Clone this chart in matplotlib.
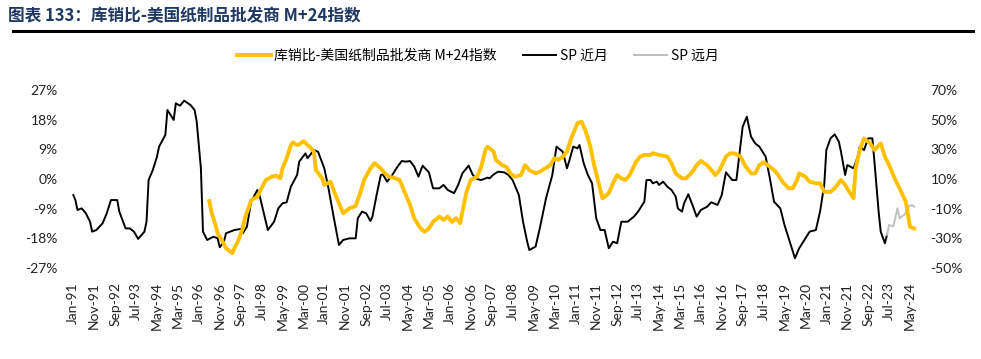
import matplotlib
matplotlib.use("Agg")
import matplotlib.pyplot as plt
import numpy as np

plt.rcParams['font.family'] = ['Lato', 'Noto Sans CJK SC', 'DejaVu Sans']

# ---------------- data ----------------
sp_near_dates = ["1991-01","1991-02","1991-03","1991-05","1991-07","1991-09","1991-10","1991-12","1992-03","1992-05",
"1992-07","1992-10","1992-11","1993-02","1993-04","1993-06","1993-08","1993-11","1993-12","1994-01",
"1994-03","1994-05","1994-06","1994-09","1994-10","1995-01","1995-02","1995-04","1995-06","1995-09",
"1995-11","1995-12","1996-02","1996-03","1996-05","1996-08","1996-10","1996-11","1997-01","1997-02",
"1997-06","1997-09","1997-10","1997-12","1998-02","1998-05","1998-06","1998-10","1999-01","1999-03",
"1999-05","1999-07","1999-09","1999-12","2000-01","2000-04","2000-05","2000-08","2000-10","2001-01",
"2001-03","2001-05","2001-08","2001-10","2002-01","2002-04","2002-05","2002-07","2002-09","2002-11",
"2002-12","2003-02","2003-04","2003-05","2003-07","2003-09","2003-12","2004-02","2004-04","2004-06",
"2004-08","2004-10","2004-12","2005-03","2005-05","2005-08","2005-10","2005-12","2006-01","2006-03",
"2006-05","2006-07","2006-10","2006-12","2007-02","2007-04","2007-07","2007-08","2007-10","2007-12",
"2008-03","2008-05","2008-07","2008-10","2008-12","2009-02","2009-03","2009-06","2009-08","2009-11",
"2010-02","2010-04","2010-07","2010-08","2010-09","2010-10","2010-12","2011-02","2011-03","2011-05",
"2011-07","2011-09","2011-11","2012-01","2012-03","2012-05","2012-07","2012-09","2012-11","2013-02",
"2013-05","2013-07","2013-10","2013-11","2014-01","2014-02","2014-04","2014-05","2014-07","2014-09",
"2014-11","2015-01","2015-02","2015-04","2015-05","2015-07","2015-09","2015-11","2016-01","2016-04",
"2016-06","2016-09","2016-11","2017-01","2017-04","2017-06","2017-08","2017-09","2017-11","2018-01",
"2018-03","2018-05","2018-08","2018-10","2018-12","2019-03","2019-05","2019-08","2019-10","2019-12",
"2020-02","2020-05","2020-08","2020-10","2020-12","2021-01","2021-03","2021-05","2021-07","2021-08",
"2021-10","2021-11","2022-02","2022-04","2022-05","2022-07","2022-09","2022-11","2022-12","2023-02",
"2023-03","2023-05","2023-06"]
sp_near_values = [-0.8,-4.2,-10.9,-9.8,-13.1,-18.8,-25.5,-24.4,-19.9,-13.1,
-4.2,-4.2,-12.0,-23.3,-23.3,-25.5,-30.4,-25.5,-18.8,9.3,
16.0,25.0,31.8,39.7,56.5,49.8,61.0,59.4,62.8,59.9,
56.5,48.6,17.2,-25.5,-31.1,-28.9,-30.0,-36.0,-32.3,-26.6,
-24.4,-23.7,-26.6,-22.2,-5.3,2.6,-0.8,-24.4,-18.8,-9.8,
-6.4,-5.7,4.8,12.7,21.7,27.3,24.0,29.5,28.4,17.2,
3.7,-12.0,-34.5,-31.1,-30.0,-30.0,-16.5,-12.0,-13.1,-18.3,
-15.4,-0.8,12.7,13.1,8.2,11.6,18.3,22.1,21.7,22.1,
18.3,11.6,19.0,14.5,3.7,3.7,6.0,2.6,1.9,0.4,
6.0,13.8,19.0,12.7,10.0,9.3,10.9,10.5,13.1,14.9,
14.5,12.7,9.3,-0.8,-18.8,-32.3,-37.9,-35.6,-23.3,-3.0,
12.7,31.8,28.4,22.8,17.2,21.7,31.8,30.7,32.9,20.6,
12.7,7.1,-16.5,-24.4,-24.4,-36.7,-32.3,-33.3,-18.8,-18.8,
-15.4,-12.0,-5.3,9.3,9.3,7.1,8.2,6.0,8.2,4.8,
2.6,-1.9,-9.8,-12.0,-6.4,-0.3,-7.5,-15.4,-10.9,-8.7,
-5.7,-7.5,-0.8,14.5,9.3,9.3,32.9,45.2,52.0,38.5,
34.0,31.8,25.0,10.5,-5.3,-9.8,-21.0,-34.5,-43.4,-36.7,
-32.3,-25.5,-24.4,-12.0,6.0,29.5,37.4,40.1,35.1,28.4,
12.7,19.4,17.2,25.0,31.8,29.5,37.4,37.4,21.7,-12.0,
-25.5,-33.3,-27.7]

sp_far_dates = ["2023-06","2023-07","2023-09","2023-11","2023-12","2024-03","2024-04","2024-06","2024-07"]
sp_far_values = [-27.7,-21.0,-22.0,-9.8,-16.5,-13.1,-8.7,-7.5,-8.7]

ratio_dates = ["1996-06","1996-07","1996-09","1996-10","1996-12","1997-02","1997-03","1997-05","1997-06","1997-08",
"1997-10","1997-11","1998-01","1998-02","1998-05","1998-07","1998-09","1998-12","1999-02","1999-04",
"1999-05","1999-07","1999-09","1999-10","1999-12","2000-01","2000-03","2000-05","2000-06","2000-08",
"2000-09","2000-12","2001-01","2001-04","2001-06","2001-09","2001-10","2002-01","2002-04","2002-06",
"2002-08","2002-11","2003-01","2003-04","2003-06","2003-08","2003-11","2004-01","2004-04","2004-06",
"2004-08","2004-11","2005-01","2005-03","2005-05","2005-08","2005-10","2005-12","2006-02","2006-04",
"2006-06","2006-07","2006-09","2006-11","2007-02","2007-04","2007-06","2007-07","2007-10","2007-11",
"2008-02","2008-04","2008-06","2008-08","2008-11","2009-01","2009-03","2009-06","2009-08","2009-11",
"2010-01","2010-03","2010-05","2010-07","2010-09","2010-11","2011-02","2011-04","2011-06","2011-08",
"2011-10","2011-12","2012-02","2012-05","2012-07","2012-09","2012-11","2013-01","2013-03","2013-06",
"2013-08","2013-10","2014-01","2014-02","2014-05","2014-09","2014-11","2015-01","2015-04","2015-06",
"2015-09","2015-11","2016-01","2016-04","2016-06","2016-08","2016-10","2017-01","2017-03","2017-05",
"2017-08","2017-10","2018-01","2018-03","2018-05","2018-07","2018-09","2018-12","2019-02","2019-04",
"2019-07","2019-09","2019-11","2019-12","2020-03","2020-05","2020-08","2020-10","2020-12","2021-03",
"2021-05","2021-08","2021-10","2021-12","2022-02","2022-03","2022-05","2022-07","2022-10","2022-12",
"2023-03","2023-05","2023-07","2023-10","2023-12","2024-03","2024-05","2024-07"]
ratio_values = [-6.7,-9.9,-14.0,-16.5,-18.5,-21.0,-21.5,-22.5,-21.0,-18.5,
-15.0,-11.9,-8.4,-6.4,-5.4,-2.8,-0.3,0.7,1.0,0.2,
3.2,6.3,10.3,11.1,10.3,10.5,11.5,10.3,9.8,8.3,
2.7,0.2,-1.8,-0.8,-4.3,-8.9,-10.4,-8.9,-8.2,-4.6,
-0.3,3.2,4.8,3.2,1.7,0.7,0.2,-0.3,-4.9,-7.9,
-11.9,-15.0,-16.0,-15.0,-13.0,-11.4,-12.4,-11.4,-13.0,-11.9,
-13.4,-9.9,-3.9,-0.3,0.7,3.7,8.8,9.8,8.3,5.8,
4.2,3.7,1.7,0.7,1.2,4.2,2.7,1.7,2.2,3.4,
4.2,6.3,5.8,6.8,8.3,12.3,16.9,17.4,14.4,10.3,
4.2,-0.8,-5.9,-4.3,-1.3,1.2,0.2,-0.3,1.2,5.2,
6.8,7.3,7.3,7.8,7.3,6.8,4.8,1.7,0.2,0.2,
2.2,4.2,5.5,4.2,2.7,1.2,2.7,6.8,7.8,7.8,
6.8,4.2,1.7,1.7,4.2,5.1,4.2,2.7,1.2,-0.8,
-2.8,-2.8,-0.3,1.7,0.7,-0.8,-1.3,-1.3,-3.9,-3.9,
-2.8,-0.3,-1.8,-3.9,-5.9,3.2,8.8,12.3,10.8,8.8,
10.8,6.8,4.2,-0.3,-2.8,-6.9,-14.5,-15.0]

left_ticks = [-27, -18, -9, 0, 9, 18, 27]
right_ticks = [-50, -30, -10, 10, 30, 50, 70]
month_names = ["Jan","Feb","Mar","Apr","May","Jun","Jul","Aug","Sep","Oct","Nov","Dec"]

title = "图表 133：库销比-美国纸制品批发商 M+24指数"
label_ratio = "库销比-美国纸制品批发商 M+24指数"
label_near = "SP 近月"
label_far = "SP 远月"

# ---------------- helpers ----------------
def to_m(d):
    y, m = d.split("-")
    return (int(y) - 1991) * 12 + int(m) - 1

xn = np.array([to_m(d) for d in sp_near_dates])
xf = np.array([to_m(d) for d in sp_far_dates])
xr = np.array([to_m(d) for d in ratio_dates])

W, H = 981, 359
fig = plt.figure(figsize=(W / 100, H / 100), dpi=100)
ax_l, ax_r, ax_t, ax_b = 66, 918, 90, 268
ax = fig.add_axes([ax_l / W, 1 - ax_b / H, (ax_r - ax_l) / W, (ax_b - ax_t) / H])
ax2 = ax.twinx()

ppm = (910 - 73.3) / 400.0
x0 = -(73.3 - ax_l) / ppm
x1 = 400 + (ax_r - 910) / ppm

yellow = "#FFC000"
l1, = ax.plot(xr, ratio_values, color=yellow, lw=2.8, solid_joinstyle='round', zorder=3)
l2, = ax2.plot(xn, sp_near_values, color="black", lw=1.4, zorder=4)
l3, = ax2.plot(xf, sp_far_values, color="#BFBFBF", lw=1.4, zorder=4)
ax.set_zorder(ax2.get_zorder() + 1)
ax.patch.set_visible(False)

ax.set_xlim(x0, x1)
ax.set_ylim(-27, 27)
ax2.set_ylim(-50, 70)
ax.set_yticks(left_ticks)
ax.set_yticklabels([f"{v}%" for v in left_ticks])
ax2.set_yticks(right_ticks)
ax2.set_yticklabels([f"{v}%" for v in right_ticks])

xt = list(range(0, 401, 10))
ax.set_xticks(xt)
ax.set_xticklabels([f"{month_names[m % 12]}-{(1991 + m // 12) % 100:02d}" for m in xt],
                   rotation=90, fontsize=10)

for a in (ax, ax2):
    for s in a.spines.values():
        s.set_visible(False)
    a.tick_params(length=0, labelsize=10, colors="#222222")
ax.tick_params(axis='y', pad=6)
ax2.tick_params(axis='y', pad=9)
ax.tick_params(axis='x', pad=10)

# title and rule
fig.text(8 / W, 1 - 16 / H, title, fontsize=12, fontweight='bold', color="#1F3864",
         va='center', ha='left', family=['Noto Sans CJK SC', 'DejaVu Sans'])
fig.add_artist(plt.Line2D([13 / W, 973 / W], [1 - 30.7 / H, 1 - 30.7 / H], color='black', lw=2.2))

fig.legend([l1, l2, l3], [label_ratio, label_near, label_far], loc='center',
           bbox_to_anchor=(478 / W, 1 - 56 / H), ncol=3, frameon=False,
           handlelength=2.4, handletextpad=0.25, columnspacing=1.9,
           prop={'family': ['Noto Sans CJK SC', 'DejaVu Sans'], 'size': 10})

fig.savefig("out.png", dpi=100)
